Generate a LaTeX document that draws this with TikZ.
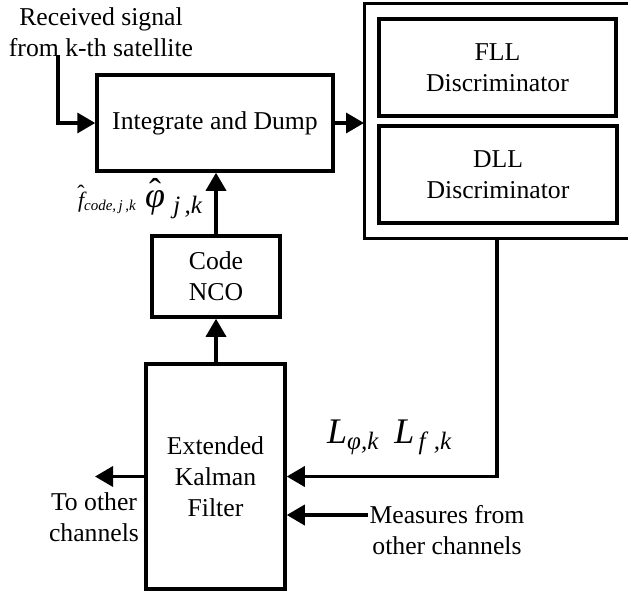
\documentclass[tikz,border=0pt]{standalone}
\usepackage{fontspec}
\setmainfont{Liberation Serif}
\usetikzlibrary{arrows.meta}
\newcommand\mainsz{\fontsize{25.7}{31}\selectfont}
\newcommand\bigit[1]{{\fontsize{36}{36}\selectfont\itshape #1}}
\newcommand\subit[1]{{\fontsize{25}{25}\selectfont\itshape #1}}
\newcommand\hatover[2]{\ooalign{#2\cr\hidewidth\raisebox{#1}{\upshape ˆ}\hidewidth\cr}}
\begin{document}
\begin{tikzpicture}[x=1pt,y=-1pt,
  box/.style={draw,line width=3.5pt,inner sep=0pt,align=center,font=\mainsz},
  lbl/.style={inner sep=0pt,align=center,font=\mainsz},
  wire/.style={line width=3.5pt},
  arr/.style={line width=3.5pt,-{Triangle[length=18pt,width=20pt]}}]
\useasboundingbox (0,0) rectangle (628,591);
% blocks
\node[box,minimum width=236pt,minimum height=96pt] (id) at (215,123) {Integrate and Dump};
\node[box,minimum width=237pt,minimum height=97pt] (fll) at (497.5,67.5) {FLL\\Discriminator};
\node[box,minimum width=238pt,minimum height=97pt] (dll) at (498,174.5) {DLL\\Discriminator};
\node[box,minimum width=128pt,minimum height=81pt] (nco) at (216,276.5) {Code\\NCO};
\node[box,minimum width=139pt,minimum height=225pt] (ekf) at (215.5,476.5) {Extended\\Kalman\\Filter};
% outer discriminator frame (open to the right edge)
\coordinate (otr) at (640,4);
\coordinate (otl) at (364,4);
\coordinate (obl) at (364,238);
\coordinate (obr) at (640,238);
\draw[line width=3pt] (otr) -- (otl) -- (obl) -- (obr);
\coordinate (oin) at (364,123);
\coordinate (ob) at (497,238);
% texts
\node[lbl] (rx) at (101,32) {Received signal\\from k-th satellite};
\coordinate (rs) at (58,55);
\node[lbl] (toc) at (94,517) {To other\\channels};
\coordinate (to) at (95,476.5);
\node[lbl] (meas) at (447,530) {Measures from\\other channels};
\coordinate (ms) at (368,515);
\node[inner sep=0pt,anchor=base west] (lab) at (327,443) {\bigit{L}\raisebox{-6pt}{\subit{φ,k}}\hspace{16pt}\bigit{L}\raisebox{-6pt}{\subit{\,f\,\,,k}}};
\node[inner sep=0pt,anchor=base west] (phl) at (145,207) {\fontsize{36}{36}\selectfont\itshape\hatover{4pt}{φ}\raisebox{-6pt}{\subit{\,\,j\,,k}}};
\node[inner sep=0pt,anchor=base east] (fhl) at (136,207) {\fontsize{22}{22}\selectfont\itshape\hatover{7pt}{f}\raisebox{-3pt}{{\fontsize{15}{15}\selectfont\itshape code,\,j\,,k}}};
% connectors
\draw[arr] (rs) |- (id.west);
\draw[arr] (id.east) -- (oin);
\draw[arr] (nco.north) -- (nco.north |- id.south);
\draw[arr] (ekf.north -| nco.south) -- (nco.south);
\draw[arr] (ob) |- (ekf.east);
\draw[arr] (ekf.west) -- (to);
\draw[arr] (ms) -- (ekf.east |- ms);
\end{tikzpicture}
\end{document}
